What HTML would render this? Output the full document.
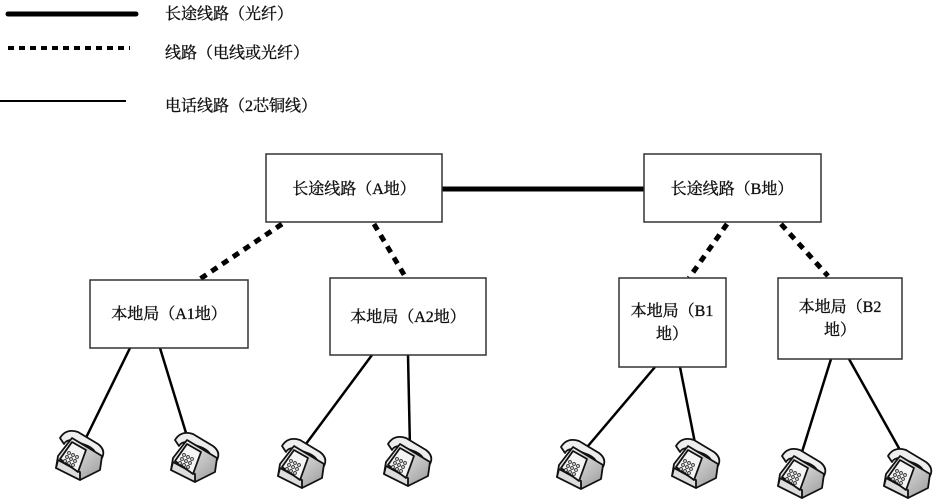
<!DOCTYPE html>
<html><head><meta charset="utf-8"><style>
body{margin:0;background:#fff;}
svg{display:block;}
text{font-family:"Liberation Serif","Noto Serif CJK SC",serif;font-size:16px;fill:#111;stroke:#111;stroke-width:0.35px;}
</style></head><body>
<svg width="934" height="500" viewBox="0 0 934 500" xmlns="http://www.w3.org/2000/svg">
<defs>
<linearGradient id="g" x1="0" y1="0" x2="1" y2="1"><stop offset="0" stop-color="#fff"/><stop offset="1" stop-color="#999"/></linearGradient>
<g id="ph" stroke="#111" stroke-width="1.8" stroke-linejoin="round">
<path d="M8,12 Q14,2 26,6 L46,18 Q54,24 50,32 L44,30 Q44,24 36,20 L20,14 Q14,14 12,18 Z" fill="#eee"/>
<path d="M6,30 L20,12 L50,30 L48,44 L28,54 L4,42 Z" fill="url(#g)"/>
<path d="M4,42 L28,54 L28,46 L6,34 Z" fill="#ddd"/>
<path d="M8,33 L20,16 L34,24 L26,46 Z" fill="#f4f4f4"/>
<g fill="#bbb" stroke-width="0.6"><circle cx="17" cy="27" r="1.6"/><circle cx="21" cy="29" r="1.6"/><circle cx="25" cy="31" r="1.6"/><circle cx="15" cy="31" r="1.6"/><circle cx="19" cy="33" r="1.6"/><circle cx="23" cy="35" r="1.6"/><circle cx="13" cy="35" r="1.6"/><circle cx="17" cy="37" r="1.6"/><circle cx="21" cy="39" r="1.6"/></g>
</g>
</defs>
<line x1="8" y1="14" x2="136" y2="14" stroke="#000" stroke-width="5" stroke-linecap="round"/>
<line x1="8" y1="48" x2="130" y2="48" stroke="#000" stroke-width="4" stroke-dasharray="6,5"/>
<line x1="0" y1="101" x2="126" y2="101" stroke="#000" stroke-width="2"/>
<text x="165" y="19">长途线路（光纤）</text>
<text x="165" y="58">线路（电线或光纤）</text>
<text x="165" y="111">电话线路（2芯铜线）</text>
<line x1="442" y1="189" x2="644" y2="189" stroke="#000" stroke-width="5"/>
<g stroke="#000" stroke-width="5" stroke-dasharray="7,6">
<line x1="282" y1="224" x2="200" y2="279"/>
<line x1="374" y1="224" x2="406" y2="278"/>
<line x1="727" y1="224" x2="689" y2="278"/>
<line x1="781" y1="224" x2="828" y2="276"/>
</g>
<g stroke="#000" stroke-width="2.5">
<line x1="130" y1="348" x2="80" y2="450"/>
<line x1="160" y1="348" x2="190" y2="446"/>
<line x1="372" y1="355" x2="300" y2="452"/>
<line x1="408" y1="355" x2="410" y2="448"/>
<line x1="655" y1="367" x2="588" y2="446"/>
<line x1="680" y1="367" x2="695" y2="443"/>
<line x1="831" y1="359" x2="802" y2="452"/>
<line x1="849" y1="359" x2="900" y2="450"/>
</g>
<g fill="#fff" stroke="#333" stroke-width="1.5">
<rect x="266" y="154" width="176" height="68"/>
<rect x="644" y="154" width="177" height="68"/>
<rect x="90" y="280" width="158" height="68"/>
<rect x="330" y="278" width="156" height="77"/>
<rect x="619" y="278" width="107" height="89"/>
<rect x="778" y="278" width="124" height="81"/>
</g>
<text x="354" y="194" text-anchor="middle">长途线路（A地）</text>
<text x="732" y="194" text-anchor="middle">长途线路（B地）</text>
<text x="169" y="319" text-anchor="middle">本地局（A1地）</text>
<text x="408" y="322" text-anchor="middle">本地局（A2地）</text>
<text x="672" y="316" text-anchor="middle">本地局（B1</text>
<text x="672" y="339" text-anchor="middle">地）</text>
<text x="840" y="312" text-anchor="middle">本地局（B2</text>
<text x="840" y="335" text-anchor="middle">地）</text>
<use href="#ph" x="52" y="426"/>
<use href="#ph" x="167" y="428"/>
<use href="#ph" x="274" y="434"/>
<use href="#ph" x="380" y="432"/>
<use href="#ph" x="553" y="435"/>
<use href="#ph" x="668" y="434"/>
<use href="#ph" x="774" y="444"/>
<use href="#ph" x="880" y="444"/>
</svg>
</body></html>
